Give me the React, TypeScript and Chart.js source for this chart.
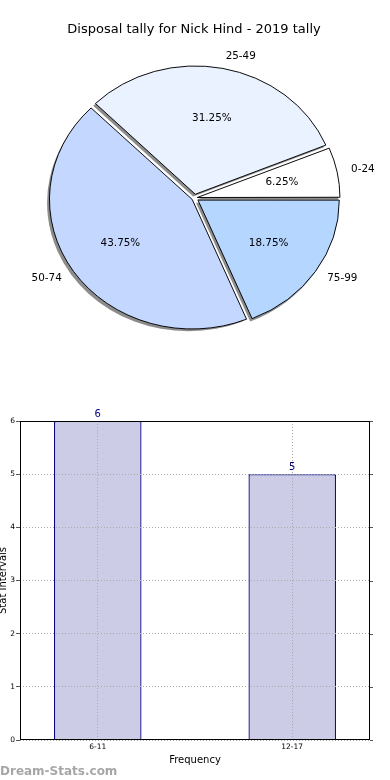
import React, { useEffect, useRef } from "react";
import { Chart, registerables } from "chart.js";

Chart.register(...registerables);

const pieTitle = "Disposal tally for Nick Hind - 2019 tally";
const pieLabels = ["0-24", "25-49", "50-74", "75-99"];
const pieValues = [1, 5, 7, 3];
const pieColors = ["#ffffff", "#eaf1ff", "#c4d8ff", "#b4d6ff"];

const barCategories = ["6-11", "12-17"];
const barValues = [6, 5];
const yTicks = [0, 1, 2, 3, 4, 5, 6];
const xAxisTitle = "Frequency";
const yAxisTitle = "Stat Intervals";
const watermark = "Dream-Stats.com";

const FONT = "'DejaVu Sans', sans-serif";
const Y_SCALE = 0.908;
const EXPLODE = 4.5;

function PieChart() {
  const ref = useRef<HTMLCanvasElement>(null);
  useEffect(() => {
    const canvas = ref.current!;
    const total = pieValues.reduce((a, b) => a + b, 0);
    // Chart.js draws clockwise; matplotlib counter-clockwise from east -> reverse order
    const order = pieLabels.map((_, i) => i).reverse();
    const ellipse = {
      id: "ellipse",
      beforeDatasetsDraw(chart: any) {
        const ctx = chart.ctx;
        const meta = chart.getDatasetMeta(0);
        const a = meta.data[0];
        ctx.save();
        ctx.translate(a.x, a.y);
        ctx.scale(1, Y_SCALE);
        ctx.translate(-a.x, -a.y);
        // shadow pass beneath all slices
        ctx.save();
        ctx.translate(-2.2, 2.8);
        ctx.fillStyle = "rgba(0,0,0,0.45)";
        meta.data.forEach((arc: any) => {
          const circ = arc.endAngle - arc.startAngle;
          const off = (arc.options.offset || 0) / 4;
          const fix = 1 - Math.sin(Math.min(Math.PI, circ));
          const d = off * (1 + fix);
          const mid = (arc.startAngle + arc.endAngle) / 2;
          const cx = arc.x + Math.cos(mid) * d;
          const cy = arc.y + Math.sin(mid) * d;
          ctx.beginPath();
          ctx.moveTo(cx, cy);
          ctx.arc(cx, cy, arc.outerRadius + 0.5, arc.startAngle, arc.endAngle);
          ctx.closePath();
          ctx.fill();
        });
        ctx.restore();
      },
      afterDatasetsDraw(chart: any) {
        chart.ctx.restore();
      },
      afterDraw(chart: any) {
        const ctx = chart.ctx;
        ctx.save();
        ctx.fillStyle = "#000";
        ctx.font = `13px ${FONT}`;
        ctx.textAlign = "center";
        ctx.textBaseline = "middle";
        ctx.fillText(pieTitle, 194, 30);
        ctx.font = `10.4px ${FONT}`;
        const meta = chart.getDatasetMeta(0);
        meta.data.forEach((arc: any, k: number) => {
          const idx = order[k];
          const mid = (arc.startAngle + arc.endAngle) / 2;
          const c = Math.cos(mid), s = Math.sin(mid);
          const r = arc.outerRadius;
          const px = arc.x + (EXPLODE + 0.6 * r) * c;
          const py = arc.y + Y_SCALE * (EXPLODE + 0.6 * r) * s;
          ctx.textAlign = "center";
          const pct = ((pieValues[idx] / total) * 100).toFixed(2) + "%";
          ctx.fillText(pct, px, py);
          const lx = arc.x + (EXPLODE + 1.1 * r) * c;
          const ly = arc.y + Y_SCALE * (EXPLODE + 1.1 * r) * s;
          ctx.textAlign = c > 0 ? "left" : "right";
          ctx.fillText(pieLabels[idx], lx, ly);
        });
        ctx.restore();
      },
    };
    const chart = new Chart(canvas, {
      type: "pie",
      data: {
        labels: order.map((i) => pieLabels[i]),
        datasets: [
          {
            data: order.map((i) => pieValues[i]),
            backgroundColor: order.map((i) => pieColors[i]),
            borderColor: "#000",
            borderWidth: 1,
            offset: (ctx: any) => {
              const v = ctx.raw as number;
              const circ = (2 * Math.PI * v) / total;
              const fix = 1 - Math.sin(Math.min(Math.PI, circ));
              return (EXPLODE * 4) / (1 + fix);
            },
          } as any,
        ],
      },
      options: {
        responsive: false,
        animation: false,
        rotation: 90,
        radius: 141,
        layout: { padding: { top: 36, bottom: 0, left: 0, right: 1 } },
        plugins: { legend: { display: false }, tooltip: { enabled: false } },
      } as any,
      plugins: [ellipse],
    });
    return () => chart.destroy();
  }, []);
  return <canvas ref={ref} width={390} height={360} style={{ display: "block", width: 390, height: 360 }} />;
}

function BarChart() {
  const ref = useRef<HTMLCanvasElement>(null);
  useEffect(() => {
    const canvas = ref.current!;
    const deco = {
      id: "deco",
      afterDraw(chart: any) {
        const ctx = chart.ctx;
        const a = chart.chartArea;
        ctx.save();
        ctx.strokeStyle = "#000";
        ctx.lineWidth = 1;
        ctx.setLineDash([]);
        ctx.strokeRect(Math.round(a.left) + 0.5, Math.round(a.top) + 0.5, Math.round(a.right - a.left) - 1, Math.round(a.bottom - a.top) - 1);
        // right-side tick marks
        const ys = chart.scales.y;
        ctx.strokeStyle = "#555";
        yTicks.forEach((t) => {
          const y = Math.round(ys.getPixelForValue(t)) + 0.5;
          ctx.beginPath();
          ctx.moveTo(a.right, y);
          ctx.lineTo(a.right + 3, y);
          ctx.stroke();
        });
        const meta = chart.getDatasetMeta(0);
        ctx.fillStyle = "#000080";
        ctx.font = `10px ${FONT}`;
        ctx.textAlign = "center";
        ctx.textBaseline = "bottom";
        meta.data.forEach((bar: any, i: number) => {
          ctx.fillText(String(barValues[i]), bar.x, bar.y - 2);
        });
        ctx.fillStyle = "rgba(150,150,150,0.85)";
        ctx.font = `bold 12px ${FONT}`;
        ctx.textAlign = "left";
        ctx.textBaseline = "alphabetic";
        ctx.fillText(watermark, 0, 415);
        ctx.restore();
      },
    };
    const grid = {
      color: "#aaaaaa",
      lineWidth: 1,
      offset: false,
      z: 1,
      drawTicks: true,
      tickLength: 4,
      tickColor: "#555",
      tickBorderDash: [],
    };
    const border = { display: false, dash: [1, 2], color: "#000" };
    const chart = new Chart(canvas, {
      type: "bar",
      data: {
        datasets: [
          {
            data: barCategories.map((c, i) => ({ x: i, y: barValues[i] })),
            backgroundColor: "rgb(204,204,230)",
            borderColor: "#000080",
            borderWidth: 1.3,
            barPercentage: 0.45,
            categoryPercentage: 1,
          } as any,
        ],
      },
      options: {
        responsive: false,
        animation: false,
        layout: { padding: { top: 61, right: 20, left: 0, bottom: 0 } },
        plugins: { legend: { display: false }, tooltip: { enabled: false } },
        scales: {
          x: {
            type: "linear",
            offset: false,
            min: -0.4,
            max: 1.4,
            afterBuildTicks: (s: any) => {
              s.ticks = barCategories.map((_, i) => ({ value: i }));
            },
            ticks: {
              callback: (v: any) => barCategories[v] ?? "",
              font: { family: FONT, size: 7.5 },
              color: "#000",
              padding: 3,
              maxRotation: 0,
            },
            grid: { ...grid, drawTicks: false },
            border,
            title: {
              display: true,
              text: xAxisTitle,
              font: { family: FONT, size: 10 },
              color: "#000",
              padding: { top: 0, bottom: 14 },
            },
            afterFit: (s: any) => {
              s.height = 40;
            },
          },
          y: {
            min: 0,
            max: 6,
            afterBuildTicks: (s: any) => {
              s.ticks = yTicks.map((v) => ({ value: v }));
            },
            ticks: {
              font: { family: FONT, size: 7.5 },
              color: "#000",
              padding: 1,
            },
            grid,
            border,
            title: {
              display: true,
              text: yAxisTitle,
              font: { family: FONT, size: 10 },
              color: "#000",
              padding: { top: -3, bottom: 0 },
            },
            afterFit: (s: any) => {
              s.width = 20;
            },
          },
        },
      } as any,
      plugins: [deco],
    });
    return () => chart.destroy();
  }, []);
  return <canvas ref={ref} width={390} height={420} style={{ display: "block", width: 390, height: 420 }} />;
}

export default function App() {
  return (
    <div style={{ position: "fixed", left: 0, top: 0, width: 390, height: 780, background: "#fff", overflow: "hidden", fontFamily: FONT }}>
      <PieChart />
      <BarChart />
    </div>
  );
}
